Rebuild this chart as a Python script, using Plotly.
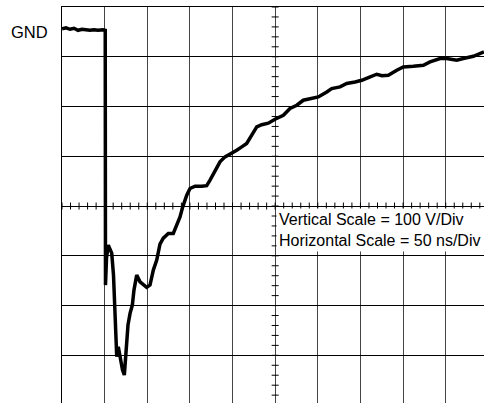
import numpy as np
import plotly.graph_objects as go

# Oscilloscope trace: time (ns) from left edge of screen, voltage (V) relative to screen centre line
time_ns = [0, 4.7, 9.4, 14.1, 18.8, 23.5, 28.1, 32.8, 37.5, 42.2, 48.1, 50.7,
           51.0, 52.2, 54.3, 56.3, 58.3, 60.4, 62.2, 63.3, 64.2, 66.0, 68.8, 71.0,
           73.1, 75.9, 77.4, 79.8, 82.5, 84.4, 86.4, 87.6, 91.5, 95.4, 99.3, 103.2,
           107.1, 111.1, 112.9, 114.9, 118.8, 124.7, 130.5, 133.7, 138.4, 141.6,
           146.3, 150.1, 156.0, 163.9, 169.7, 173.6, 179.5, 185.3, 191.2, 199.0,
           204.9, 210.8, 216.6, 222.5, 228.4, 234.2, 242.0, 249.8, 259.6, 267.4,
           275.3, 283.0, 290.9, 300.6, 310.5, 316.3, 326.1, 333.9, 343.7, 351.5,
           359.3, 369.1, 375.3, 382.7, 392.6, 400.3, 412.0, 423.8, 431.6, 443.4,
           451.2, 462.9, 470.7, 482.4, 494.9]
volts = [356.2, 358.2, 355.2, 357.2, 353.2, 355.2, 354.2, 353.2, 354.2, 353.2, 354.2, 353.2,
         -158.8, -104.6, -78.5, -88.6, -94.6, -138.8, -209.0, -279.3, -302.8, -282.7, -309.4, -329.5,
         -339.6, -269.3, -239.2, -215.7, -199.0, -168.9, -145.4, -138.8, -152.2, -158.8, -163.5, -158.8,
         -128.7, -108.6, -88.6, -76.5, -64.5, -55.0, -55.0, -41.8, -21.7, -1.6,
         21.9, 35.3, 40.0, 40.0, 41.0, 52.0, 72.1, 88.8, 98.8, 105.6,
         112.2, 118.9, 125.7, 142.4, 159.0, 163.5, 166.5, 174.5, 182.5, 196.0,
         202.6, 212.6, 216.1, 219.3, 229.3, 236.1, 239.4, 246.2, 249.4, 252.8,
         258.2, 264.9, 261.8, 262.8, 272.9, 279.5, 280.9, 282.9, 289.6, 296.4,
         296.4, 293.0, 296.4, 301.0, 309.6]

gnd_level = 349
scale_text = ["Vertical Scale = 100 V/Div", "Horizontal Scale = 50 ns/Div"]

ns_per_div = 50
v_per_div = 100
x_range = [0, 494.9]
y_range = [-395.8, 400]
centre_t = 250

font_family = "Liberation Sans, Arial, sans-serif"

fig = go.Figure()

# minor tick marks on the centre cross-hair
minor_t = np.arange(0, x_range[1], ns_per_div / 5)
minor_v = np.arange(-380, y_range[1] + 1, v_per_div / 5)
fig.add_trace(go.Scatter(x=minor_t, y=np.zeros_like(minor_t), mode="markers",
                         marker=dict(symbol="line-ns", size=5, line=dict(width=1, color="black")),
                         hoverinfo="skip", showlegend=False))
fig.add_trace(go.Scatter(x=np.full_like(minor_v, centre_t), y=minor_v, mode="markers",
                         marker=dict(symbol="line-ew", size=5, line=dict(width=1, color="black")),
                         hoverinfo="skip", showlegend=False))

fig.add_trace(go.Scatter(x=time_ns, y=volts, mode="lines",
                         line=dict(color="black", width=3.5), showlegend=False))

fig.add_annotation(x=centre_t + 1.5, y=-4, xref="x", yref="y", xanchor="left", yanchor="top",
                   text="<br>".join(scale_text), align="left", showarrow=False,
                   bgcolor="white", borderpad=2,
                   font=dict(family=font_family, size=16, color="black"))
fig.add_annotation(x=-0.125, y=gnd_level, xref="paper", yref="y", xanchor="left", yanchor="middle",
                   text="GND", showarrow=False,
                   font=dict(family=font_family, size=16.5, color="black"))

fig.update_layout(
    width=484, height=403,
    margin=dict(l=62, r=0, t=7, b=0),
    paper_bgcolor="white", plot_bgcolor="white",
    xaxis=dict(range=x_range, dtick=ns_per_div, tick0=0, showgrid=True, gridcolor="#444444",
               gridwidth=1, zeroline=False, showticklabels=False, ticks="", side="top",
               showline=True, linecolor="black", linewidth=1, fixedrange=True),
    yaxis=dict(range=y_range, dtick=v_per_div, tick0=0, showgrid=True, gridcolor="black",
               gridwidth=1, zeroline=True, zerolinecolor="black", zerolinewidth=1,
               showticklabels=False, ticks="", showline=True, linecolor="black",
               linewidth=1, fixedrange=True),
)

fig.write_html("out.html", config={"displayModeBar": False},
               post_script="document.body.style.margin='0';document.body.style.overflow='hidden';")
